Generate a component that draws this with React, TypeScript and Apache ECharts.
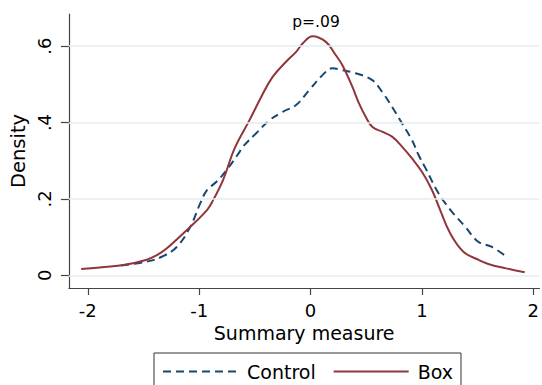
import React, { useEffect, useRef } from "react";
import * as echarts from "echarts";

const titleText = "p=.09";
const xTicks = [-2, -1, 0, 1, 2];
const yTicks = [0, 0.2, 0.4, 0.6];

const controlX = [-1.70, -1.47, -1.32, -1.20, -1.08, -0.99, -0.93, -0.845, -0.755, -0.64, -0.607, -0.488, -0.369, -0.25, -0.13, -0.012, 0.107, 0.196, 0.286, 0.405, 0.554, 0.643, 0.732, 0.821, 0.911, 0.97, 1.03, 1.149, 1.268, 1.387, 1.506, 1.625, 1.759];
const controlY = [0.026, 0.036, 0.051, 0.075, 0.127, 0.189, 0.223, 0.245, 0.275, 0.322, 0.337, 0.372, 0.406, 0.428, 0.446, 0.485, 0.524, 0.542, 0.537, 0.529, 0.511, 0.480, 0.441, 0.398, 0.354, 0.315, 0.282, 0.215, 0.167, 0.128, 0.088, 0.075, 0.049];

const boxX = [-2.06, -1.85, -1.68, -1.47, -1.38, -1.29, -1.11, -0.93, -0.875, -0.785, -0.681, -0.547, -0.443, -0.339, -0.22, -0.13, -0.071, 0.018, 0.138, 0.227, 0.286, 0.375, 0.435, 0.495, 0.554, 0.643, 0.732, 0.821, 0.911, 1.0, 1.089, 1.164, 1.254, 1.372, 1.506, 1.596, 1.745, 1.923];
const boxY = [0.017, 0.022, 0.027, 0.041, 0.053, 0.071, 0.119, 0.171, 0.197, 0.25, 0.333, 0.407, 0.467, 0.520, 0.559, 0.585, 0.607, 0.626, 0.611, 0.576, 0.550, 0.494, 0.450, 0.415, 0.389, 0.376, 0.363, 0.337, 0.306, 0.271, 0.224, 0.171, 0.110, 0.062, 0.041, 0.030, 0.019, 0.008];

const FONT = "DejaVu Sans";

export default function App() {
  const ref = useRef<HTMLDivElement>(null);
  useEffect(() => {
    if (!ref.current) return;
    const chart = echarts.init(ref.current, null, { renderer: "svg" });
    const pairs = (xs: number[], ys: number[]) => xs.map((x, i) => [x, ys[i]]);
    chart.setOption({
      animation: false,
      backgroundColor: "#ffffff",
      title: {
        text: titleText,
        left: 311,
        top: 9,
        textAlign: "center",
        textStyle: { fontFamily: FONT, fontSize: 15.5, fontWeight: "normal", color: "#000" },
      },
      legend: {
        data: ["Control", "Box"],
        left: 154,
        top: 353,
        orient: "horizontal",
        itemWidth: 75,
        itemHeight: 14,
        itemGap: 17,
        borderColor: "#333",
        borderWidth: 1,
        padding: [9, 8, 9, 8],
        itemStyle: { opacity: 0 },
        textStyle: { fontFamily: FONT, fontSize: 19, color: "#000", padding: [0, 0, 0, 4] },
      },
      grid: { left: 68, right: 1, top: 14, bottom: 97 },
      xAxis: {
        type: "value",
        min: -2.17,
        max: 2.055,
        name: "Summary measure",
        nameLocation: "middle",
        nameGap: 32,
        nameTextStyle: { fontFamily: FONT, fontSize: 19, color: "#000" },
        axisLine: { show: true, onZero: false, lineStyle: { color: "#444", width: 1.2 } },
        axisTick: { show: true, length: 7, customValues: xTicks, lineStyle: { color: "#444", width: 1.2 } },
        axisLabel: {
          customValues: xTicks,
          margin: 13,
          fontFamily: FONT,
          fontSize: 18,
          color: "#000",
          formatter: (v: number) => String(v),
        },
        splitLine: { show: false },
      },
      yAxis: {
        type: "value",
        min: -0.033,
        max: 0.684,
        name: "Density",
        nameLocation: "middle",
        nameGap: 38,
        nameTextStyle: { fontFamily: FONT, fontSize: 19.5, color: "#000" },
        axisLine: { show: true, onZero: false, lineStyle: { color: "#444", width: 1.2 } },
        axisTick: { show: true, length: 8, customValues: yTicks, lineStyle: { color: "#444", width: 1.2 } },
        axisLabel: {
          customValues: yTicks,
          rotate: 90,
          margin: 15,
          fontFamily: FONT,
          fontSize: 18,
          color: "#000",
          formatter: (v: number) => (v === 0 ? "0" : String(Math.round(v * 10) / 10).replace(/^0/, "")),
        },
        splitLine: { show: false },
      },
      series: [
        {
          name: "grid",
          type: "line",
          data: [],
          silent: true,
          z: 1,
          markLine: {
            silent: true,
            symbol: "none",
            label: { show: false },
            lineStyle: { color: "#e6eef0", width: 1.5, type: "solid" },
            data: yTicks.map((v) => ({ yAxis: v })),
          },
        },
        {
          name: "Control",
          type: "line",
          data: pairs(controlX, controlY),
          smooth: 0.4,
          symbol: "none",
          showSymbol: false,
          z: 3,
          lineStyle: { color: "#1a476f", width: 2, type: [8, 5] },
          itemStyle: { color: "#1a476f" },
        },
        {
          name: "Box",
          type: "line",
          data: pairs(boxX, boxY),
          smooth: 0.4,
          symbol: "none",
          showSymbol: false,
          z: 3,
          lineStyle: { color: "#90353b", width: 2 },
          itemStyle: { color: "#90353b" },
        },
      ],
    });
    return () => chart.dispose();
  }, []);
  return <div ref={ref} style={{ width: 542, height: 385, position: "absolute", left: 0, top: 0 }} />;
}
